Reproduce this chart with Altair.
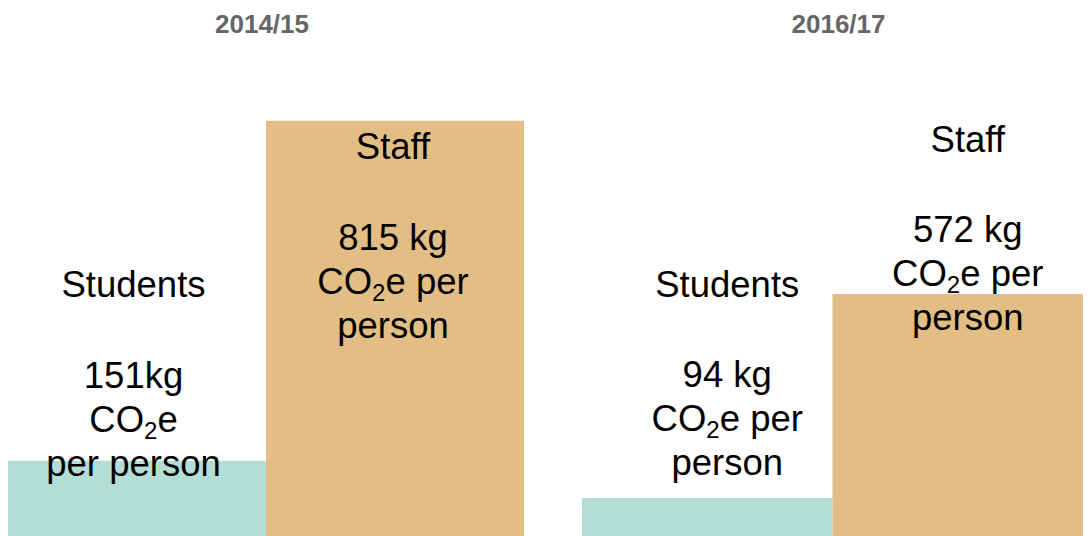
import altair as alt
import pandas as pd

# ---- data ----
years = ["2014/15", "2016/17"]
groups = ["Students", "Staff"]
values_1415 = [151, 815]
values_1617 = [94, 572]
heads = ["Students", "Staff"]
bodies_1415 = [["151kg", "CO₂e", "per person"], ["815 kg", "CO₂e per", "person"]]
bodies_1617 = [["94 kg", "CO₂e per", "person"], ["572 kg", "CO₂e per", "person"]]
colors = ["#b3ded6", "#e2be85"]

# ---- layout / style ----
PLOT_TOP = 42          # page y of the plot area's top
PLOT_H = 496
FONT = "Liberation Sans"
FS = 36.5
SUB_FS = 24
LINE_H = 44
# Arial / Liberation Sans advance widths (em) for measuring the CO2 lines
ADV = {"C": 0.722, "O": 0.778, "e": 0.556, " ": 0.278, "p": 0.556,
       "r": 0.333, "2": 0.556}


def width(s, fs):
    return sum(ADV[c] for c in s) * fs


def panel(year, vals, bodies, dmax, width_px, label_pos, title_dx):
    df = pd.DataFrame({"group": groups, "value": vals})
    base = alt.Chart(df)
    x = alt.X("group:N", sort=groups,
              scale=alt.Scale(paddingInner=0, paddingOuter=0), axis=None)
    bars = base.mark_bar().encode(
        x=x,
        y=alt.Y("value:Q", scale=alt.Scale(domain=[0, dmax], nice=False, zero=True), axis=None),
        color=alt.Color("group:N", scale=alt.Scale(domain=groups, range=colors), legend=None),
    )
    layers = [bars]
    for g, head, body, (dx, y_head, y_body) in zip(groups, heads, bodies, label_pos):
        txt = base.transform_filter(alt.datum.group == g)
        lines = [(head, y_head)] + [(b, y_body + i * LINE_H) for i, b in enumerate(body)]
        for line, yb in lines:
            y = alt.value(yb - PLOT_TOP)
            if "CO₂" in line:
                pre, post = line.split("₂")
                pre_w = width(pre, FS)
                sub_w = width("2", SUB_FS)
                total = pre_w + sub_w + width(post, FS)
                x0 = dx - total / 2
                parts = [(pre, x0, FS, 0), ("2", x0 + pre_w, SUB_FS, 7),
                         (post, x0 + pre_w + sub_w, FS, 0)]
                for s, px, fs, ddy in parts:
                    layers.append(txt.mark_text(
                        align="left", baseline="alphabetic", fontSize=fs, font=FONT,
                        color="black", dx=px, dy=ddy).encode(x=x, y=y, text=alt.value(s)))
            else:
                layers.append(txt.mark_text(
                    align="center", baseline="alphabetic", fontSize=FS, font=FONT,
                    color="black", dx=dx).encode(x=x, y=y, text=alt.value(line)))
    return alt.layer(*layers).properties(
        width=width_px, height=PLOT_H,
        title=alt.TitleParams(text=year, dx=title_dx))


left = panel(years[0], values_1415, bodies_1415, 1.953 * PLOT_H, 516,
             [(-3.5, 297, 388), (-2, 159, 250)], -4)
right = panel(years[1], values_1617, bodies_1617, 2.344 * PLOT_H, 501,
              [(20, 297, 387), (10, 152, 242)], 6)

chart = (
    alt.hconcat(left, right, spacing=58)
    .resolve_scale(y="independent", x="independent", color="shared")
    .configure(padding={"top": 4, "left": 0, "right": 0, "bottom": 0})
    .configure_view(stroke=None)
    .configure_title(font=FONT, fontSize=26, fontWeight="bold", color="#666666",
                     anchor="middle", offset=0)
)

chart.save("out.html", embed_options={"renderer": "svg", "actions": False})
